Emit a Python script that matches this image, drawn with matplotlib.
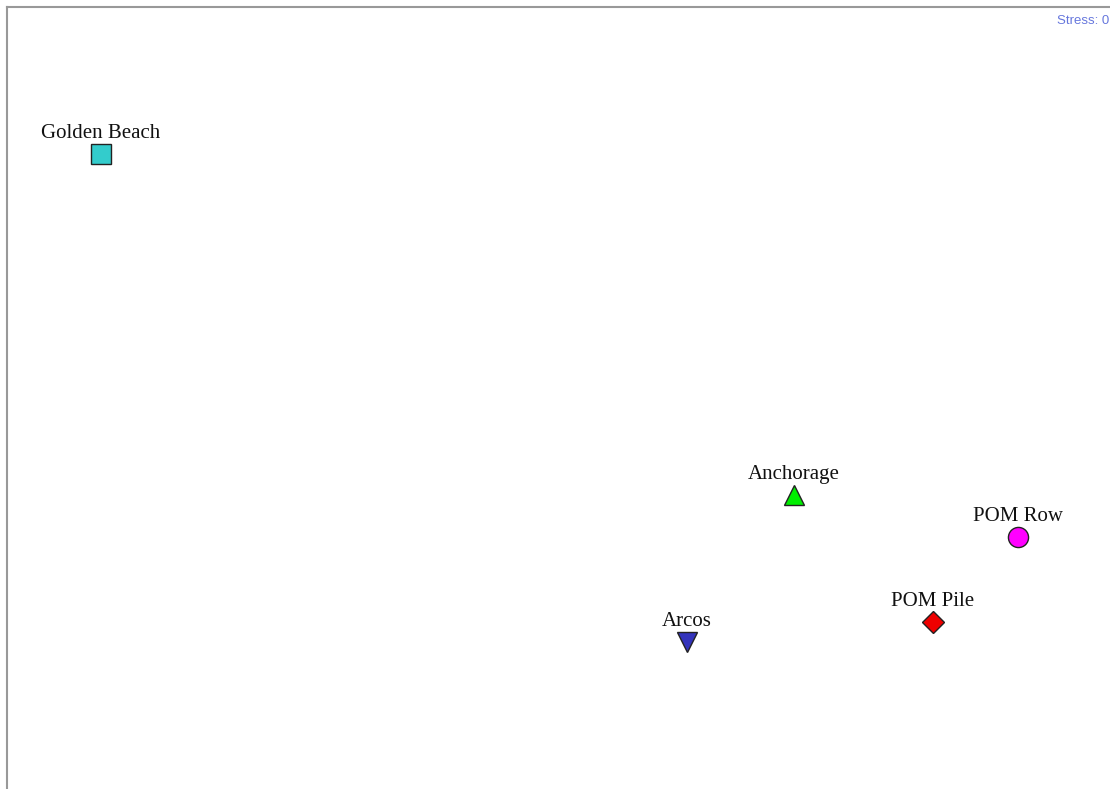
import matplotlib
matplotlib.use("Agg")
import matplotlib.pyplot as plt

sites = ["Golden Beach", "Anchorage", "POM Row", "POM Pile", "Arcos"]
mds_x = [94, 787, 1011, 926, 680]
mds_y = [147, 488, 530, 615, 635]
markers = ["s", "^", "o", "D", "v"]
colors = ["#33cccc", "#00ee00", "#ff00ff", "#ee0000", "#3333bb"]
sizes = [14.5, 15, 14.5, 11.5, 15]

W, H = 1110, 789
fig = plt.figure(figsize=(W / 100, H / 100), dpi=100)
ax = fig.add_axes([7 / W, 0, 1 - 7 / W, 1 - 7 / H])
ax.set_xlim(0, W - 7)
ax.set_ylim(H - 7, 0)
ax.set_xticks([])
ax.set_yticks([])
for s in ["right", "bottom"]:
    ax.spines[s].set_visible(False)
for s in ["top", "left"]:
    ax.spines[s].set_color("#999999")
    ax.spines[s].set_linewidth(1.5)

for name, x, y, m, c, sz in zip(sites, mds_x, mds_y, markers, colors, sizes):
    ax.plot(x, y, marker=m, markersize=sz, markerfacecolor=c,
            markeredgecolor="#222222", markeredgewidth=1.0, linestyle="none")
    ax.annotate(name, (x, y), xytext=(0, 11.5), textcoords="offset points",
                ha="center", va="baseline", fontsize=15,
                family="Liberation Serif", color="#111111")

ax.text(0.999, 0.99, "Stress: 0", transform=ax.transAxes, ha="right",
        va="top", fontsize=9.5, color="#6677dd", family="Liberation Sans")

fig.savefig("out.png", dpi=100)
